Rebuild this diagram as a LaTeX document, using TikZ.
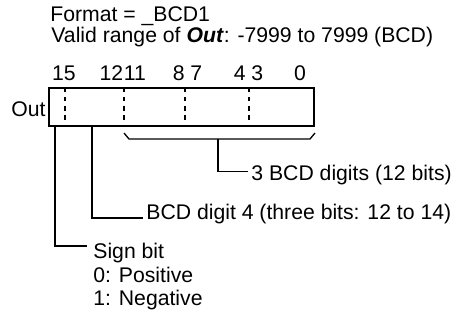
\documentclass[tikz,border=0pt]{standalone}
\usepackage{fontspec}
\setmainfont{Liberation Sans}
\usepackage{tikz}
\usetikzlibrary{calc}

\begin{document}
\begin{tikzpicture}[
  x=0.5pt, y=-0.5pt,
  font=\fontsize{10.6}{11.75}\selectfont,
  word/.style={draw, line width=0.85pt, minimum width=132.5pt,
    minimum height=19pt, inner sep=0pt},
  divider/.style={line width=0.8pt, dash pattern=on 2.3pt off 2.4pt},
  bitno/.style={inner sep=0pt, anchor=base},
  note/.style={inner xsep=1.5pt, inner ysep=0pt, anchor=base west, align=left},
  lead/.style={line width=0.65pt}
]
\useasboundingbox (0,0) rectangle (458,320);
% heading
\node[note, inner xsep=0pt] (fmt) at (50,22) {Format = \_BCD1};
\node[note, inner xsep=0pt] (range) at (51,43)
  {Valid range of \textbf{\textit{Out}}: -7999 to 7999 (BCD)};
% data word
\node[word] (out) at (181.5,107) {};
\node[bitno, anchor=base east] (outlbl) at (46,117) {Out};
\foreach \x in {65,124,185,249}
  \draw[divider] (out.north -| \x,0) -- (out.south -| \x,0);
% bit numbers
\node[bitno] (b15) at (64,81) {15};
\node[bitno, anchor=base east] (b12) at (123.5,81) {12};
\node[bitno, anchor=base west] (b11) at (123.5,81) {11};
\node[bitno, anchor=base east] (b8) at (185,81) {8};
\node[bitno, anchor=base west] (b7) at (190,81) {7};
\node[bitno, anchor=base east] (b4) at (246,81) {4};
\node[bitno, anchor=base west] (b3) at (251,81) {3};
\node[bitno] (b0) at (300,81) {0};
% bracket over bits 0 to 11
\draw[lead] (124,133) -- (129,139) -- (310,139) -- (315,133);
\coordinate (brk) at (218,139);
\node[note] (bcd3) at (248,180) {3 BCD digits (12 bits)};
\draw[lead] (brk) |- ([yshift=1.5pt]bcd3.west);
% digit 4
\coordinate (d4) at (out.south -| 92,0);
\node[note] (bcd4) at (143,219) {BCD digit 4 (three bits: 12 to 14)};
\draw[lead] (d4) |- ([yshift=0.5pt]bcd4.base west);
% sign bit
\coordinate (sg) at (out.south -| 55,0);
\node[note, anchor=north west, inner xsep=3pt] (sign) at (87,243)
  {Sign bit\\0: Positive\\1: Negative};
\draw[lead] (sg) |- ([yshift=-1.5pt]sign.north west);
\end{tikzpicture}
\end{document}
